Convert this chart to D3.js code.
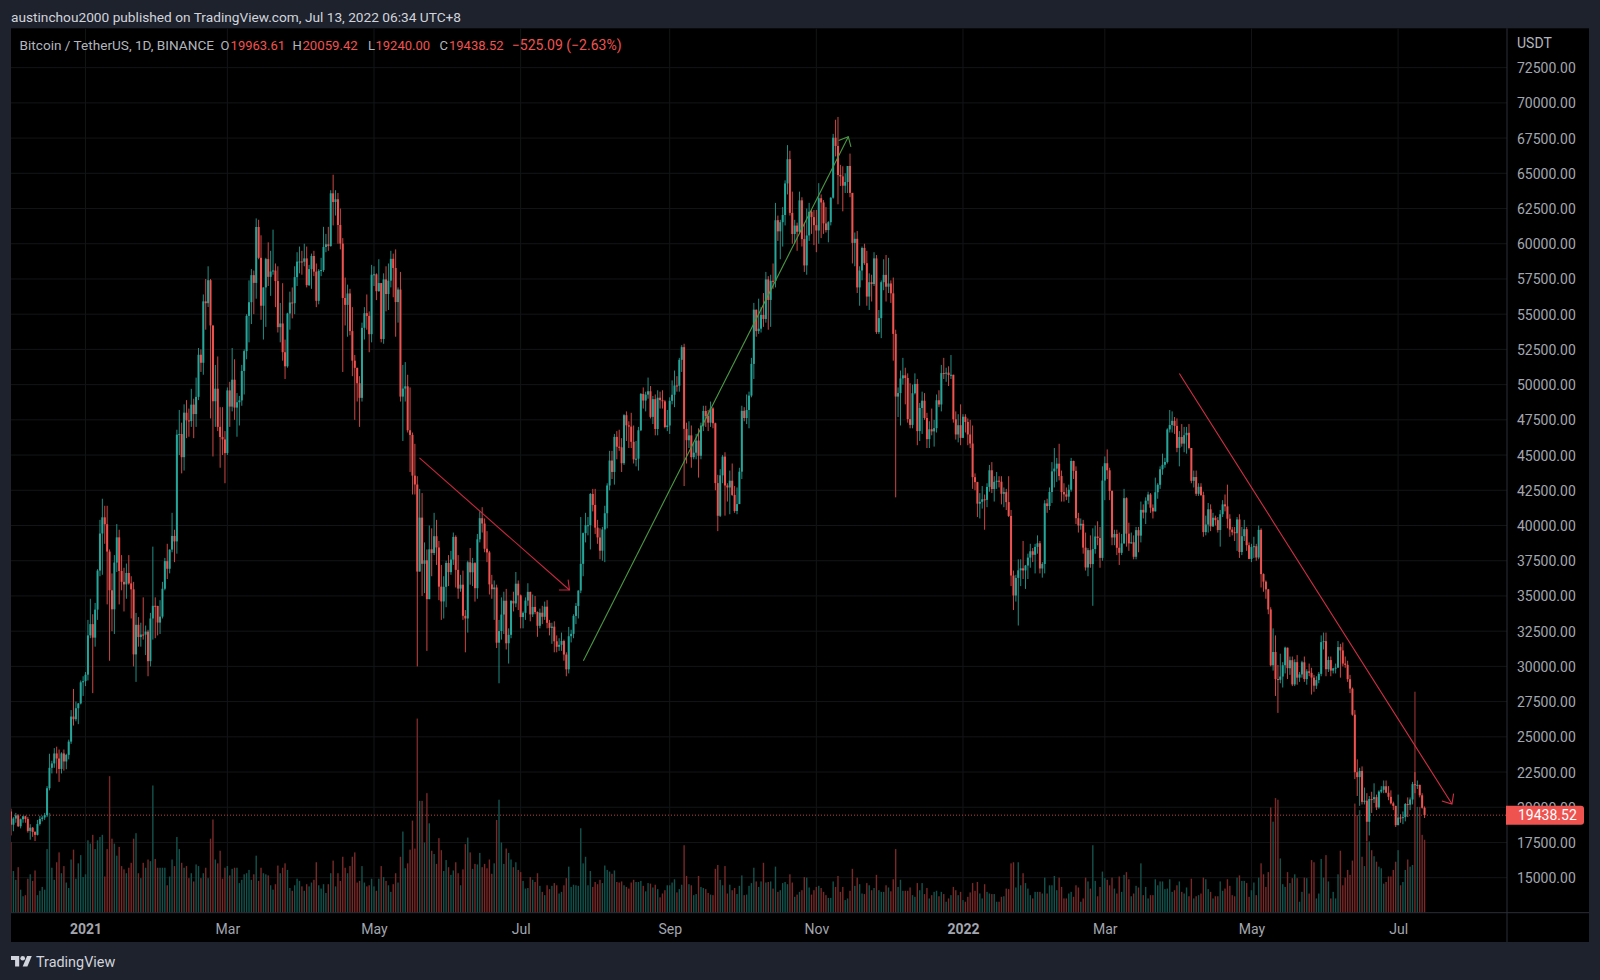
<!DOCTYPE html>
<html><head><meta charset="utf-8">
<script src="https://cdn.jsdelivr.net/npm/d3@7/dist/d3.min.js"></script>
<style>html,body{margin:0;padding:0;background:#1e222d}svg{display:block}text{font-family:Roboto,sans-serif}</style>
</head><body><svg id="c" width="1600" height="980"></svg>
<script>
// Prices in thousands of USDT, one entry per daily bar, 1 Dec 2020 to 12 Jul 2022.
const firstOpen = 19.70;
const closes = [
18.76,19.20,19.42,18.65,19.15,19.36,19.17,18.32,18.55,18.25,18.04,18.81,19.17,19.27,19.44,21.35,22.80,23.11,23.82,23.46,22.72,23.82,23.25,23.72,24.66,26.44,26.25,27.03,27.37,28.87,28.95,
29.41,32.20,33.00,32.04,34.03,36.80,39.43,40.58,40.09,38.15,35.40,34.05,37.37,39.16,36.77,36.00,35.82,36.63,35.89,35.47,30.85,32.95,32.08,32.26,32.25,32.47,30.37,33.40,34.30,34.29,33.11,
33.53,35.51,37.47,36.93,38.29,39.26,38.87,46.45,46.49,44.85,48.01,47.46,47.41,48.58,47.91,49.13,52.12,51.55,55.91,55.78,57.41,54.20,48.82,49.71,47.00,46.28,46.11,45.14,
49.59,48.44,50.35,48.37,48.75,48.88,50.97,52.38,54.88,55.85,57.77,57.22,61.19,59.00,55.60,56.90,58.91,57.65,58.03,58.10,57.35,54.08,54.34,52.30,51.30,55.05,55.83,55.78,57.63,58.73,58.74,
58.72,58.96,57.06,58.20,59.13,58.02,55.95,58.08,58.13,59.77,59.96,59.83,63.58,62.96,63.16,61.33,60.01,56.15,55.66,56.47,53.80,51.70,51.19,50.10,49.06,54.03,55.07,54.88,53.58,57.80,
57.83,56.63,57.21,53.24,57.47,56.43,57.38,58.93,58.28,55.86,56.75,49.15,49.72,49.88,46.76,46.43,43.54,42.91,36.73,40.56,37.28,37.53,34.77,38.31,38.05,39.24,38.44,35.66,34.61,35.65,37.34,
36.69,37.58,39.19,36.85,35.52,35.80,33.59,33.40,37.39,36.68,37.33,35.55,39.02,40.52,40.14,38.35,38.09,35.82,35.48,35.60,31.68,32.51,33.68,34.66,31.64,32.24,34.65,34.47,35.87,35.04,
33.50,33.80,34.67,35.29,33.69,34.22,33.86,32.88,33.81,33.52,34.24,33.09,32.73,32.82,31.78,31.39,31.53,31.80,30.84,29.79,32.14,32.31,33.58,34.29,35.38,37.28,39.46,40.02,40.02,42.24,41.46,
39.85,39.15,38.21,39.72,40.87,42.84,44.61,43.80,46.29,45.59,45.55,44.42,47.83,47.11,47.02,45.94,44.69,44.74,46.76,49.34,48.87,49.29,49.53,47.71,48.97,46.85,49.07,48.90,48.81,46.99,47.10,
48.85,49.28,49.94,49.92,51.76,52.66,46.86,46.05,46.40,44.85,45.17,46.03,44.95,47.09,48.13,47.77,47.30,48.31,47.26,43.01,40.69,43.56,44.89,42.84,42.70,43.18,42.17,41.03,41.52,43.82,
48.14,47.63,48.20,49.22,51.47,55.32,53.80,53.97,54.95,54.66,57.47,56.01,57.37,57.35,61.67,60.88,61.53,62.04,64.28,66.00,62.19,60.69,61.29,60.85,63.08,60.33,58.46,60.59,62.27,61.89,61.32,
60.94,63.23,62.93,61.44,60.97,61.53,63.27,67.53,66.94,64.88,64.78,64.12,64.38,65.52,63.61,60.06,60.35,56.90,58.10,59.70,58.62,56.25,57.27,57.14,58.96,53.73,54.72,57.27,57.79,56.95,
57.18,56.48,53.60,49.15,49.40,50.44,50.66,50.47,47.55,47.14,49.39,50.05,46.70,48.34,48.86,47.63,46.13,46.83,46.68,46.91,48.89,48.59,50.82,50.81,50.85,50.68,50.70,47.54,46.46,47.12,46.22,
47.72,47.35,46.46,45.82,43.43,43.08,41.55,41.68,41.86,41.82,42.74,43.92,42.59,43.10,43.18,43.11,42.25,42.37,41.66,40.68,36.45,35.03,36.28,36.82,36.96,36.81,37.16,37.72,38.17,37.92,38.48,
38.74,36.95,37.27,41.57,41.38,42.38,43.84,44.04,44.39,43.51,42.38,42.21,42.05,42.54,44.58,43.88,40.52,40.00,40.12,38.43,37.02,38.25,37.26,38.33,39.22,39.11,37.70,43.19,
44.42,43.92,42.45,39.15,39.40,38.42,38.06,38.73,41.94,39.42,38.73,38.81,37.78,39.67,39.28,41.11,40.92,41.76,42.20,41.26,41.00,42.36,42.89,43.99,44.31,44.51,46.82,47.13,47.43,47.07,45.51,
46.28,45.81,46.41,46.58,45.50,43.17,43.44,42.25,42.75,42.16,39.53,40.07,41.15,39.94,40.55,40.38,39.68,40.80,41.50,41.36,40.48,39.71,39.52,39.45,40.43,38.12,39.24,39.74,38.60,37.63,
38.47,38.53,37.73,39.69,36.55,36.01,35.47,34.04,30.08,31.02,29.10,29.05,29.28,30.08,31.33,29.87,30.44,28.72,30.30,29.20,29.43,30.29,29.10,29.65,29.54,29.20,28.63,29.03,29.47,31.72,31.79,
29.80,30.45,29.70,29.86,29.91,31.37,31.13,30.20,30.11,29.09,28.42,26.57,22.49,22.14,22.58,20.38,20.47,18.97,20.58,20.57,20.72,19.99,21.11,21.24,21.49,21.04,20.74,20.28,20.10,18.73,
19.27,19.24,19.30,20.23,20.18,20.55,21.64,21.59,21.59,20.85,19.96361,19.43852];
const highs = [
19.9,19.3,19.6,19.5,19.2,19.4,19.4,19.3,18.8,18.6,18.3,19.1,19.4,19.4,19.6,21.5,23.8,23.3,24.2,24.3,24.1,23.9,24.1,23.8,24.8,26.9,28.4,27.5,27.4,29.0,29.3,
29.6,33.3,34.8,33.7,34.5,36.9,40.4,41.9,41.4,41.4,38.3,36.6,37.9,40.1,39.7,37.9,37.0,37.3,37.9,36.4,36.0,33.8,33.5,33.1,34.9,32.9,32.6,33.8,38.5,34.9,34.3,
34.7,36.0,37.7,38.7,38.3,40.9,39.7,46.8,48.2,47.3,48.6,48.9,48.3,49.7,49.0,50.5,52.6,52.5,56.4,57.5,58.4,57.5,54.2,51.4,52.0,48.4,48.4,46.7,
49.8,50.2,52.6,51.8,49.4,49.2,51.4,52.5,55.0,57.4,58.2,58.1,61.8,61.7,60.6,56.9,59.0,60.1,59.5,61.0,58.6,58.4,55.8,57.2,53.2,55.1,56.6,56.9,58.4,59.4,59.8,
59.5,60.0,59.8,58.5,59.3,59.5,58.6,58.2,59.0,61.2,60.7,61.2,63.8,64.9,63.8,63.6,62.5,60.4,57.6,57.1,56.8,55.5,52.1,51.2,50.6,54.4,55.5,56.4,55.2,58.5,
58.4,57.9,58.9,57.2,57.9,58.4,58.6,59.5,59.3,59.6,56.9,58.0,51.4,51.6,50.7,49.8,46.6,45.8,43.5,42.6,42.3,38.8,38.3,40.0,39.8,40.9,40.4,38.9,37.2,36.4,37.5,
37.9,38.2,39.5,39.3,37.9,36.5,36.8,34.0,37.5,38.4,37.7,37.4,39.4,41.0,41.3,40.5,39.6,38.2,36.5,36.1,35.8,33.3,34.9,35.3,35.5,32.7,34.7,35.3,36.7,36.1,
35.1,33.9,34.9,35.9,35.3,35.1,35.0,33.9,34.1,34.3,34.6,34.7,33.3,33.1,33.2,32.2,32.0,32.4,31.9,31.0,32.8,32.6,33.7,34.5,35.4,40.6,39.5,40.9,40.6,42.3,42.6,
42.6,40.4,39.8,39.9,41.4,43.0,45.3,45.3,46.5,46.7,46.8,46.2,47.9,48.1,47.4,48.0,47.1,46.0,47.0,49.4,49.8,49.5,50.5,49.9,49.2,49.3,49.6,49.5,49.6,48.9,48.2,
49.1,50.3,51.0,50.6,51.9,52.8,52.9,47.3,47.4,47.1,45.9,46.5,46.9,47.3,48.5,48.5,48.2,48.8,48.4,47.3,43.6,44.0,45.0,45.2,43.0,43.9,44.4,42.8,42.7,44.1,
48.5,48.4,49.3,49.5,51.9,55.8,55.3,56.1,55.5,56.5,58.0,57.7,57.8,58.6,62.9,62.0,61.7,62.6,64.5,67.0,66.6,63.7,61.7,61.5,63.7,63.3,61.5,62.5,62.9,62.4,62.4,
62.4,64.3,63.5,63.1,62.6,61.6,63.3,67.8,68.8,69.0,65.6,65.5,65.0,65.5,66.4,63.6,60.8,60.9,58.4,59.8,60.0,59.5,57.9,57.8,59.4,59.2,55.3,57.4,58.9,59.2,
59.0,57.4,57.6,53.9,49.8,51.0,51.9,51.2,50.8,50.1,50.0,50.8,50.4,48.7,49.5,49.4,48.0,47.4,48.3,47.5,49.3,49.6,51.4,51.9,51.2,51.3,52.1,50.7,48.1,47.9,48.6,
47.9,47.9,47.6,47.5,47.1,43.7,43.1,42.3,42.8,42.2,43.0,44.3,44.5,43.5,43.8,43.5,43.5,42.7,42.6,43.5,41.1,36.8,36.5,37.6,37.6,38.9,37.2,38.0,38.7,38.4,38.7,
39.3,38.9,37.4,41.8,41.9,42.7,44.5,45.5,44.8,45.8,43.9,43.0,42.7,42.9,44.8,44.6,44.2,40.9,40.5,40.4,39.5,38.4,39.3,39.8,40.0,40.3,39.9,44.2,
44.9,45.4,44.1,42.5,39.7,39.7,39.5,39.4,42.6,42.0,40.2,39.5,39.3,39.9,39.9,41.7,41.5,42.0,42.4,42.3,41.5,43.4,43.0,44.2,45.1,44.8,46.9,48.2,48.1,47.7,47.6,
46.7,47.2,47.0,47.0,47.2,45.5,43.9,43.9,43.0,43.0,42.4,40.7,41.6,41.5,40.9,40.7,40.6,41.1,41.8,42.2,42.9,40.8,39.9,39.9,40.6,40.8,39.9,40.4,39.9,38.8,
38.7,39.2,38.7,40.0,39.8,36.6,36.1,35.5,34.2,32.7,32.2,30.1,30.9,30.3,31.4,31.3,30.7,30.7,30.5,30.8,29.6,30.4,30.7,29.8,30.2,29.9,29.4,29.3,29.6,32.2,32.4,
32.4,30.7,30.7,29.9,30.2,31.8,31.6,31.7,30.7,30.4,29.4,28.5,26.9,23.4,22.8,22.9,21.4,21.0,20.8,21.1,21.7,20.9,21.2,21.5,21.9,21.9,21.5,21.2,20.4,20.1,
20.9,19.5,19.7,20.3,20.7,20.7,21.8,22.5,21.9,21.6,21.0,20.05942];
const lows = [
18.0,18.3,18.9,18.6,18.5,18.9,18.9,18.2,17.7,17.9,17.6,18.0,18.7,19.0,19.1,19.3,21.2,22.4,22.8,22.4,21.8,22.4,22.6,22.7,23.4,24.5,25.8,26.1,25.9,27.3,27.9,
28.6,29.0,32.0,28.1,31.4,33.3,36.4,36.5,38.7,34.4,30.4,32.5,32.3,36.7,34.4,35.4,33.9,34.8,35.8,33.4,30.0,28.9,31.4,31.4,31.9,30.8,29.3,30.0,31.9,32.0,32.2,
32.3,33.4,35.4,36.2,36.6,38.1,37.4,38.0,45.0,43.7,43.9,46.2,46.3,47.0,46.2,47.0,48.9,50.9,50.7,53.9,55.5,47.6,44.9,47.0,46.7,44.1,45.0,43.0,
45.0,47.0,48.1,47.5,46.3,47.1,48.5,49.3,51.8,53.0,54.3,55.0,56.1,58.9,54.6,53.2,54.1,57.0,56.3,57.8,55.5,53.7,53.0,51.7,50.4,51.2,53.9,54.7,55.0,57.0,57.9,
57.8,58.4,56.9,57.0,56.8,57.7,55.5,55.7,57.7,58.0,59.4,59.5,59.8,61.3,62.0,60.0,59.6,50.9,54.2,53.4,53.5,50.6,47.5,48.8,47.0,48.8,53.2,53.9,52.3,53.0,
57.0,56.0,56.6,53.0,52.9,55.2,55.3,56.9,56.2,53.4,54.4,48.8,46.0,48.8,46.6,43.8,42.2,42.2,30.0,38.7,35.0,35.2,31.1,34.8,36.4,37.9,37.2,34.7,33.3,33.4,34.2,
35.7,36.5,37.2,35.6,34.8,35.3,33.3,31.0,32.4,35.8,35.7,34.6,34.8,38.8,39.5,38.1,37.4,35.1,34.8,33.3,31.3,28.8,31.9,32.3,31.2,30.2,32.0,33.9,34.2,34.0,
32.7,32.7,33.3,34.3,33.2,33.5,33.7,32.1,32.7,33.0,33.3,32.7,32.2,31.6,31.0,31.0,31.1,31.1,30.4,29.3,29.5,31.7,32.0,33.0,33.4,35.2,36.4,38.8,39.3,38.3,41.0,
39.4,38.7,37.6,37.5,37.4,39.8,42.5,43.3,42.9,44.7,45.3,43.8,44.3,46.0,45.5,45.5,44.4,44.2,43.9,46.7,48.3,48.1,49.0,47.6,47.2,46.4,46.4,48.3,48.3,46.9,46.7,
46.5,48.6,48.4,49.5,49.5,50.9,42.8,44.4,45.5,44.1,44.7,44.7,43.4,44.7,46.7,47.0,46.7,47.0,46.9,42.5,39.6,40.6,43.0,40.7,41.7,40.8,42.1,40.9,40.8,41.7,
43.3,47.4,47.2,46.9,49.1,50.4,53.4,53.6,53.7,54.1,54.4,53.9,54.1,56.8,56.9,60.2,58.9,59.8,61.3,63.5,62.0,60.0,60.0,59.5,60.7,59.8,58.0,57.8,60.2,60.7,59.9,
59.4,60.0,60.4,60.7,60.8,60.1,61.3,63.2,66.2,62.8,64.1,62.3,63.6,63.6,63.3,58.6,58.4,56.5,55.6,57.4,58.5,55.6,55.3,55.9,57.0,53.6,53.6,53.3,56.7,55.9,
56.5,55.8,51.7,42.0,47.7,47.1,50.0,48.6,47.3,46.9,46.9,49.3,45.7,46.0,46.5,47.5,45.5,45.5,46.4,45.6,46.6,48.4,48.1,50.4,50.2,49.9,50.4,47.3,46.1,45.9,45.7,
46.2,46.6,45.7,45.5,42.6,42.5,40.6,40.5,41.2,39.7,41.3,42.4,42.3,41.7,42.6,42.7,41.5,41.3,41.1,40.6,35.7,34.0,34.6,32.9,35.7,36.2,35.5,36.2,37.0,37.4,36.6,
38.0,36.6,36.3,36.6,40.9,41.1,41.6,42.7,43.1,43.2,41.7,41.7,41.8,41.6,42.4,43.3,40.1,39.5,39.7,38.0,36.8,36.4,37.0,34.3,38.0,38.6,37.0,37.5,
41.8,43.3,41.8,38.6,38.6,37.9,37.2,37.9,38.7,38.5,38.2,38.7,37.6,37.6,38.1,38.8,40.5,40.1,41.5,40.9,40.5,41.0,41.9,42.6,43.6,44.1,44.4,46.6,46.6,46.5,45.2,
44.2,45.6,45.2,45.1,45.4,43.0,42.7,42.1,42.1,42.1,39.2,39.3,39.5,39.6,39.9,40.0,39.5,38.5,40.6,41.0,39.8,39.2,39.3,38.9,38.2,37.7,37.9,38.9,38.2,37.6,
37.4,37.7,37.5,37.6,35.6,35.3,34.8,33.7,30.0,29.7,27.9,26.7,28.8,28.5,29.5,29.1,29.4,28.6,28.6,28.7,28.9,29.2,28.9,28.7,29.3,28.0,28.2,28.4,28.8,29.3,31.2,
29.3,29.6,29.3,29.5,29.5,29.9,29.2,30.0,29.9,28.9,28.1,26.5,22.0,20.8,20.1,20.2,20.2,17.6,18.0,19.6,20.3,19.8,19.9,21.0,21.0,21.0,20.5,20.2,19.8,18.6,
18.8,18.9,18.8,19.0,19.3,19.8,20.2,21.0,21.3,20.7,19.9,19.24];
// Volume in thousands of BTC.
const volumes = [
129,76,60,83,42,30,32,62,70,58,77,32,40,47,42,116,182,82,60,92,110,72,85,55,45,97,115,62,90,105,65,
70,132,126,142,116,132,138,142,66,116,249,135,126,104,120,85,79,72,82,91,135,145,72,63,91,82,97,94,232,98,82,
82,82,82,50,66,97,85,138,116,91,82,85,63,72,57,88,85,63,72,82,63,135,170,97,90,113,62,82,
85,68,80,82,82,54,60,70,72,78,60,70,104,58,82,72,70,68,50,42,52,86,72,82,90,78,45,40,50,62,58,
48,40,52,48,55,60,92,50,44,52,36,52,72,95,48,72,58,102,82,72,85,102,110,55,58,85,55,48,50,62,
48,40,62,85,65,58,50,38,52,72,55,102,148,81,90,115,168,117,354,204,204,128,218,163,113,107,89,136,114,76,96,
83,69,77,92,72,50,79,125,137,110,80,89,88,109,83,89,81,97,71,90,169,206,128,89,117,109,97,83,92,78,
74,58,44,45,65,60,56,72,49,38,32,50,43,49,54,50,35,38,50,63,84,47,51,50,49,154,90,102,50,76,47,
56,52,60,54,86,78,75,71,77,56,55,57,50,47,44,55,60,56,56,58,49,39,54,53,46,51,43,28,35,41,50,
50,55,61,37,43,51,123,67,52,50,32,34,67,47,45,43,36,33,32,80,87,60,50,85,35,51,41,45,34,49,
68,32,33,49,54,82,57,47,57,91,55,56,57,44,84,38,41,54,56,52,70,55,29,33,38,41,65,64,46,33,41,
47,49,45,38,32,27,27,57,47,67,38,47,23,26,40,80,49,64,52,35,34,54,50,41,45,69,41,38,38,50,
46,39,61,116,47,60,40,40,40,46,32,29,54,41,54,34,45,26,32,38,40,30,38,34,20,26,32,47,41,32,38,
23,20,29,37,54,40,56,35,26,52,38,35,34,34,20,20,29,30,44,43,90,92,46,92,50,72,54,44,32,26,38,
38,38,35,64,35,50,50,67,41,64,47,26,26,35,38,29,50,46,20,26,64,57,44,123,58,30,47,75,
63,60,50,64,44,35,66,38,69,74,61,30,35,49,46,90,32,47,26,32,32,61,50,57,57,43,44,61,38,41,50,
57,38,35,46,30,62,26,30,32,35,64,61,43,38,26,30,30,57,40,44,61,49,32,30,64,68,58,58,54,29,
41,55,32,64,90,70,47,74,192,166,209,206,99,52,47,74,54,63,70,63,20,38,64,63,35,96,92,26,35,98,64,
105,57,26,38,26,70,113,50,64,78,69,95,199,178,187,102,85,130,130,114,103,93,84,81,53,56,66,66,78,93,
114,50,56,78,97,84,87,403,193,193,142,133];
const priceTicks = [15000,17500,20000,22500,25000,27500,30000,32500,35000,37500,40000,42500,45000,47500,50000,52500,55000,57500,60000,62500,65000,67500,70000,72500];
const timeTickBars = [31,90,151,212,274,335,396,455,516,577];
const timeTickLabels = ['2021','Mar','May','Jul','Sep','Nov','2022','Mar','May','Jul'];
const timeTickBold = ['2021','2022'];
// Drawn trend arrows: bar index and price of each end.
const redTrendA = [[169.9,44800],[232.3,35420]];
const greenTrend = [[238.1,30400],[348.3,67600]];
const redTrendB = [[486,50790],[599.4,20230]];

if (closes.length!==589||highs.length!==589||lows.length!==589||volumes.length!==589)
  throw new Error('lengths '+[closes.length,highs.length,lows.length,volumes.length]);

const UP='#26a69a', DOWN='#ef5350';
const L=11,T=28.3,R=1507,B=912.7,AB=942,RE=1589;
const svg=d3.select('#c');
svg.append('rect').attr('width',1600).attr('height',980).attr('fill','#1e222d');
svg.append('rect').attr('x',L).attr('y',T).attr('width',RE-L).attr('height',AB-T).attr('fill','#000');
const defs=svg.append('defs');
defs.append('clipPath').attr('id','pane').append('rect').attr('x',L).attr('y',T).attr('width',R-L).attr('height',B-T);

const x=d3.scaleLinear().domain([0,588]).range([11,11+588*2.404]);
const y=d3.scaleLinear().domain([15000,72500]).range([877.7,67.64]);
const v=d3.scaleLinear().domain([0,403]).range([B,691.7]);

const bars=closes.map((c,i)=>{
  const o=(i?closes[i-1]:firstOpen)*1000, cl=c*1000;
  return {i,o,c:cl,h:Math.max(highs[i]*1000,o,cl),l:Math.min(lows[i]*1000,o,cl),v:volumes[i],up:cl>=o};
});

const pane=svg.append('g').attr('clip-path','url(#pane)');
const GRID='#131416';
pane.append('g').selectAll('line').data(priceTicks).join('line')
  .attr('x1',L).attr('x2',R).attr('y1',d=>y(d)).attr('y2',d=>y(d)).attr('stroke',GRID);
pane.append('g').selectAll('line').data(timeTickBars).join('line')
  .attr('x1',d=>x(d)).attr('x2',d=>x(d)).attr('y1',T).attr('y2',B).attr('stroke',GRID);

pane.append('g').selectAll('rect').data(bars).join('rect')
  .attr('x',d=>x(d.i)-0.7).attr('width',1.4).attr('y',d=>v(d.v)).attr('height',d=>B-v(d.v))
  .attr('fill',d=>d.up?'#13534d':'#782928');

pane.append('line').attr('x1',L).attr('x2',R).attr('y1',y(closes[588]*1000)).attr('y2',y(closes[588]*1000))
  .attr('stroke',DOWN).attr('stroke-opacity',0.8).attr('stroke-dasharray','1 2');

pane.append('g').selectAll('rect').data(bars).join('rect')
  .attr('x',d=>x(d.i)-0.5).attr('width',1).attr('y',d=>y(d.h)).attr('height',d=>y(d.l)-y(d.h))
  .attr('fill',d=>d.up?UP:DOWN).attr('opacity',0.85);
pane.append('g').selectAll('rect').data(bars).join('rect')
  .attr('x',d=>x(d.i)-1).attr('width',2).attr('y',d=>y(Math.max(d.o,d.c)))
  .attr('height',d=>Math.max(1,Math.abs(y(d.o)-y(d.c))))
  .attr('fill',d=>d.up?UP:DOWN);

function arrow(seg,color){
  const [a,b]=seg.map(p=>[x(p[0]),y(p[1])]);
  const ang=Math.atan2(b[1]-a[1],b[0]-a[0]);
  const g=svg.append('g').attr('fill','none').attr('stroke',color).attr('stroke-width',1.1);
  g.append('line').attr('x1',a[0]).attr('y1',a[1]).attr('x2',b[0]).attr('y2',b[1]);
  const head=d3.line()([ -0.72,0,0.72 ].map((t,k)=>k===1?b:[b[0]-10.5*Math.cos(ang+t),b[1]-10.5*Math.sin(ang+t)]));
  g.append('path').attr('d',head);
}
arrow(redTrendA,'#c9283e');
arrow(greenTrend,'#4b9a44');
arrow(redTrendB,'#d32f45');

// axes
svg.append('line').attr('x1',L).attr('x2',RE).attr('y1',B).attr('y2',B).attr('stroke','#2a2e39');
svg.append('line').attr('x1',R).attr('x2',R).attr('y1',T).attr('y2',AB).attr('stroke','#2a2e39');
const axR=svg.append('g').attr('transform',`translate(${R},0.5)`)
  .call(d3.axisRight(y).tickValues(priceTicks).tickFormat(d3.format('.2f')).tickSize(0).tickPadding(10));
axR.select('.domain').remove();
axR.selectAll('text').attr('fill','#a3a6af').style('font-size','14px').style('font-family','Roboto,sans-serif');
const axB=svg.append('g').attr('transform',`translate(0,${B})`)
  .call(d3.axisBottom(x).tickValues(timeTickBars).tickFormat((d,i)=>timeTickLabels[i]).tickSize(0).tickPadding(11));
axB.select('.domain').remove();
axB.selectAll('text').attr('fill','#a3a6af').style('font-size','14px').style('font-family','Roboto,sans-serif')
  .style('font-weight',(d,i)=>timeTickBold.includes(timeTickLabels[i])?'700':'400');
svg.append('text').attr('x',1517).attr('y',47.5).attr('fill','#b2b5be').style('font-size','14px').text('USDT');

// last price label
const lastY=y(closes[588]*1000);
const lbl=svg.append('g');
lbl.append('path').attr('fill',DOWN)
  .attr('d',`M${R-1},${lastY-9.5}H1581a3,3 0 0 1 3,3V${lastY+6.5}a3,3 0 0 1 -3,3H${R-1}Z`);
lbl.append('text').attr('x',1518).attr('y',lastY+5).attr('fill','#fff').style('font-size','14px')
  .text(d3.format('.2f')(closes[588]*1000));

// header
svg.append('text').attr('x',11).attr('y',21.5).attr('fill','#d1d4dc').style('font-size','13.7px')
  .text('austinchou2000 published on TradingView.com, Jul 13, 2022 06:34 UTC+8');
const leg=svg.append('g').style('font-size','13px');
const t=(xx,s,c,fs)=>leg.append('text').attr('x',xx).attr('y',50).attr('fill',c).style('font-size',fs||'13px').text(s);
const last=bars[588], fmt=d3.format('.2f');
t(19.6,'Bitcoin / TetherUS, 1D, BINANCE','#b2b5be','13.6px');
t(220.5,'O','#b2b5be'); t(230.6,fmt(last.o),DOWN);
t(292.6,'H','#b2b5be'); t(302.4,fmt(last.h),DOWN,'13.2px');
t(368,'L','#b2b5be'); t(375.5,fmt(last.l),DOWN);
t(439.6,'C','#b2b5be'); t(449,fmt(last.c),DOWN);
const chg=last.c-last.o;
t(511.8,'\u2212'+fmt(-chg)+' (\u2212'+fmt(-chg/last.o*100)+'%)',DOWN,'14px');

// footer
const logo=svg.append('g').attr('transform','translate(11,953.6) scale(0.585)').attr('fill','#d1d4dc');
logo.append('path').attr('d','M14 22H7V11H0V4h14v18zM28 22h-8l7.5-18h8L28 22z');
logo.append('circle').attr('cx',20).attr('cy',8).attr('r',4);
svg.append('text').attr('x',36).attr('y',967).attr('fill','#d1d4dc').style('font-size','14.4px').text('TradingView');
</script></body></html>
